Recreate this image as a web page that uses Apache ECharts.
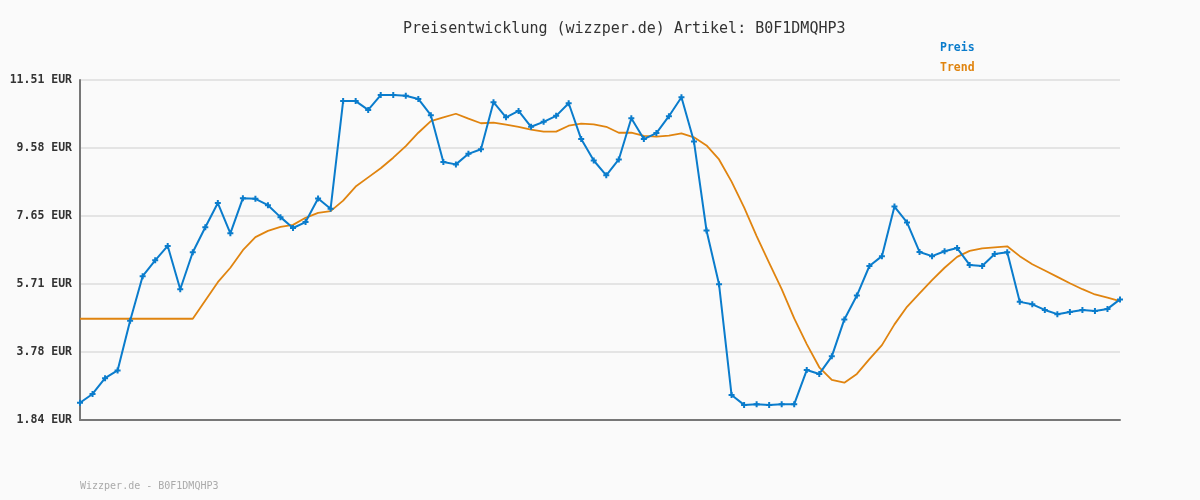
<!DOCTYPE html>
<html>
<head>
<meta charset="utf-8">
<script src="https://cdn.jsdelivr.net/npm/echarts@6/dist/echarts.min.js"></script>
<style>
html,body{margin:0;padding:0;background:#fafafa;}
#chart{width:1200px;height:500px;}
</style>
</head>
<body>
<div id="chart"></div>
<script>
const categories = Array.from({length: 84}, (_, i) => String(i + 1));
const preis = [2.33,2.58,3.03,3.25,4.66,5.93,6.38,6.79,5.56,6.61,
  7.32,8.01,7.15,8.15,8.13,7.95,7.61,7.30,7.47,8.14,
  7.85,10.91,10.91,10.66,11.08,11.08,11.06,10.97,10.51,9.18,
  9.11,9.41,9.54,10.88,10.45,10.63,10.18,10.32,10.49,10.85,
  9.83,9.22,8.80,9.25,10.42,9.83,10.00,10.48,11.02,9.76,
  7.23,5.70,2.55,2.27,2.29,2.27,2.29,2.29,3.26,3.15,
  3.65,4.70,5.38,6.22,6.50,7.91,7.46,6.62,6.50,6.64,
  6.73,6.25,6.22,6.56,6.61,5.20,5.13,4.97,4.85,4.91,
  4.97,4.94,5.00,5.27];
const trend = [4.72,4.72,4.72,4.72,4.72,4.72,4.72,4.72,4.72,4.72,
  5.24,5.76,6.17,6.67,7.04,7.22,7.33,7.39,7.59,7.73,
  7.78,8.08,8.48,8.74,9.00,9.30,9.63,10.01,10.34,10.45,
  10.55,10.41,10.28,10.30,10.24,10.18,10.10,10.04,10.04,10.21,
  10.27,10.25,10.18,10.01,10.01,9.92,9.90,9.93,9.99,9.88,
  9.65,9.25,8.62,7.89,7.07,6.31,5.56,4.73,4.00,3.34,
  2.98,2.90,3.15,3.57,3.97,4.56,5.06,5.44,5.82,6.17,
  6.48,6.65,6.72,6.75,6.78,6.50,6.27,6.09,5.91,5.73,
  5.56,5.41,5.32,5.22];
const yTicks = [1.84, 3.78, 5.71, 7.65, 9.58, 11.51];
const titleText = 'Preisentwicklung (wizzper.de) Artikel: B0F1DMQHP3';
const footerText = 'Wizzper.de - B0F1DMQHP3';

const MONO = '"DejaVu Sans Mono", "Liberation Mono", monospace';
const BLUE = '#0a7ccc';
const ORANGE = '#e0840f';

const chart = echarts.init(document.getElementById('chart'), null, {renderer: 'canvas'});
chart.setOption({
  backgroundColor: '#fafafa',
  animation: false,
  title: {
    text: titleText,
    left: 398,
    top: 17,
    textStyle: {fontFamily: MONO, fontSize: 15, fontWeight: 'normal', color: '#333'}
  },
  legend: {
    orient: 'vertical',
    left: 929,
    top: 37,
    itemWidth: 0,
    itemHeight: 0,
    itemGap: 8,
    textStyle: {fontFamily: MONO, fontSize: 11.5, fontWeight: 'bold'},
    data: [
      {name: 'Preis', textStyle: {color: BLUE}},
      {name: 'Trend', textStyle: {color: ORANGE}}
    ]
  },
  graphic: [{
    type: 'text',
    left: 80,
    top: 481,
    style: {text: footerText, fontFamily: MONO, fontSize: 10, fill: '#aaa'}
  }],
  grid: {left: 80, right: 80, top: 80, bottom: 80},
  xAxis: {
    type: 'category',
    data: categories,
    boundaryGap: false,
    axisLine: {show: true, lineStyle: {color: '#777', width: 2}},
    axisTick: {show: false},
    axisLabel: {show: false},
    splitLine: {show: false}
  },
  yAxis: {
    type: 'value',
    min: 1.84,
    max: 11.51,
    axisLine: {show: true, lineStyle: {color: '#777', width: 2}},
    axisTick: {show: false, customValues: yTicks},
    axisLabel: {
      customValues: yTicks,
      margin: 8,
      fontFamily: MONO, fontSize: 11.5, fontWeight: 'bold', color: '#333',
      formatter: v => v.toFixed(2) + ' EUR'
    },
    splitLine: {show: true, lineStyle: {color: '#e4e4e4', width: 2}}
  },
  series: [
    {
      name: 'Preis',
      type: 'line',
      data: preis,
      symbol: 'path://M2,0H4V2H6V4H4V6H2V4H0V2H2Z',
      symbolSize: 6,
      showAllSymbol: true,
      itemStyle: {color: BLUE},
      lineStyle: {color: BLUE, width: 2},
      z: 3
    },
    {
      name: 'Trend',
      type: 'line',
      data: trend,
      symbol: 'none',
      itemStyle: {color: ORANGE},
      lineStyle: {color: ORANGE, width: 1.8},
      z: 2
    }
  ]
});
</script>
</body>
</html>
